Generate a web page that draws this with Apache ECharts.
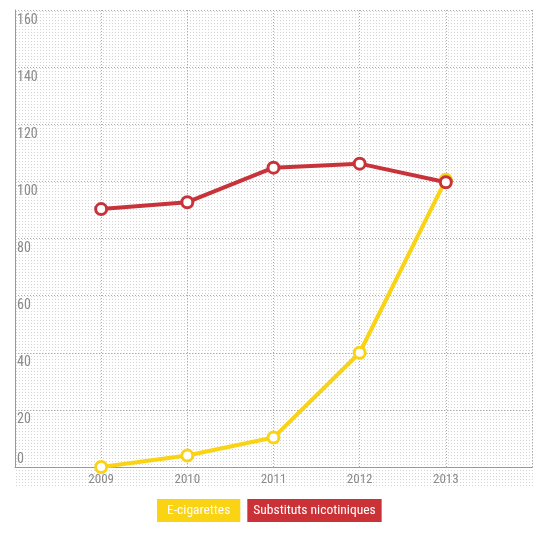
<!DOCTYPE html>
<html>
<head>
<meta charset="utf-8">
<script src="https://cdn.jsdelivr.net/npm/echarts@6/dist/echarts.min.js"></script>
<style>
html,body{margin:0;padding:0;background:#fff;}
#chart{width:547px;height:538px;}
</style>
</head>
<body>
<div id="chart"></div>
<script>
var years = [2009, 2010, 2011, 2012, 2013];
var eCigarettes = [0, 4, 10.3, 40, 100.6];
var substituts = [90.3, 92.7, 104.8, 106.2, 99.7];
var seriesNames = ['E-cigarettes', 'Substituts nicotiniques'];
var yTicks = [0, 20, 40, 60, 80, 100, 120, 140, 160];

var FONT = '"Liberation Sans Narrow", "Roboto Condensed", "Open Sans", sans-serif';

function dotPattern() {
  var c = document.createElement('canvas');
  c.width = 3; c.height = 3;
  var ctx = c.getContext('2d');
  ctx.fillStyle = '#fff';
  ctx.fillRect(0, 0, 3, 3);
  ctx.fillStyle = '#d4d4d4';
  ctx.fillRect(1, 1, 1, 1);
  return c;
}

var chart = echarts.init(document.getElementById('chart'));
chart.setOption({
  animation: false,
  textStyle: { fontFamily: FONT },
  graphic: [{
    type: 'rect',
    left: 15, top: 10, z: -10, silent: true,
    shape: { width: 518, height: 478 },
    style: { fill: { image: dotPattern(), repeat: 'repeat' } }
  }],
  grid: { left: 15, right: 15, top: 10, bottom: 71, containLabel: false },
  legend: {
    bottom: 11,
    left: 146,
    selectedMode: false,
    itemWidth: 0,
    itemHeight: 0,
    itemGap: 1,
    icon: 'rect',
    data: [
      { name: seriesNames[0], textStyle: { color: '#fff', fontSize: 13.5, fontFamily: FONT, backgroundColor: '#F9D314', padding: [5, 10, 4, 10] } },
      { name: seriesNames[1], textStyle: { color: '#fff', fontSize: 13.5, fontFamily: FONT, backgroundColor: '#CB3237', padding: [5, 6, 4, 6] } }
    ]
  },
  xAxis: {
    type: 'value',
    min: 2008, max: 2014, interval: 1,
    axisLine: { show: true, lineStyle: { color: '#999', width: 1 } },
    axisTick: { show: false },
    axisLabel: {
      color: '#8a8a8a', fontSize: 13, fontFamily: FONT, margin: 6,
      formatter: function (v) { return years.indexOf(v) >= 0 ? String(v) : ''; }
    },
    splitLine: { show: true, lineStyle: { color: '#aaa', type: [1, 2], width: 1 } }
  },
  yAxis: {
    type: 'value',
    min: yTicks[0], max: yTicks[yTicks.length - 1], interval: 20,
    axisLine: { show: true, lineStyle: { color: '#999', width: 1 } },
    axisTick: { show: false },
    axisLabel: {
      inside: true, margin: 2, color: '#8a8a8a', fontSize: 13, fontFamily: FONT,
      verticalAlign: 'middle',
      formatter: function (v) { return v === 0 ? '{z|0}' : '{n|' + v + '}'; },
      rich: {
        n: { padding: [20, 0, 0, 0], color: '#8a8a8a', fontSize: 14, fontFamily: FONT },
        z: { padding: [0, 0, 16, 0], color: '#8a8a8a', fontSize: 14, fontFamily: FONT }
      }
    },
    splitLine: { show: true, lineStyle: { color: '#aaa', type: [1, 2], width: 1 } }
  },
  series: [
    {
      name: seriesNames[0], type: 'line', color: '#F9D314',
      data: years.map(function (y, i) { return [y, eCigarettes[i]]; }),
      lineStyle: { width: 4, color: '#F9D314' },
      symbol: 'circle', symbolSize: 11,
      itemStyle: { color: '#fff', borderColor: '#F9D314', borderWidth: 3 },
      z: 2
    },
    {
      name: seriesNames[1], type: 'line', color: '#CB3237',
      data: years.map(function (y, i) { return [y, substituts[i]]; }),
      lineStyle: { width: 4, color: '#C8333A' },
      symbol: 'circle', symbolSize: 11,
      itemStyle: { color: '#fff', borderColor: '#C8333A', borderWidth: 3 },
      z: 3
    }
  ]
});
</script>
</body>
</html>
